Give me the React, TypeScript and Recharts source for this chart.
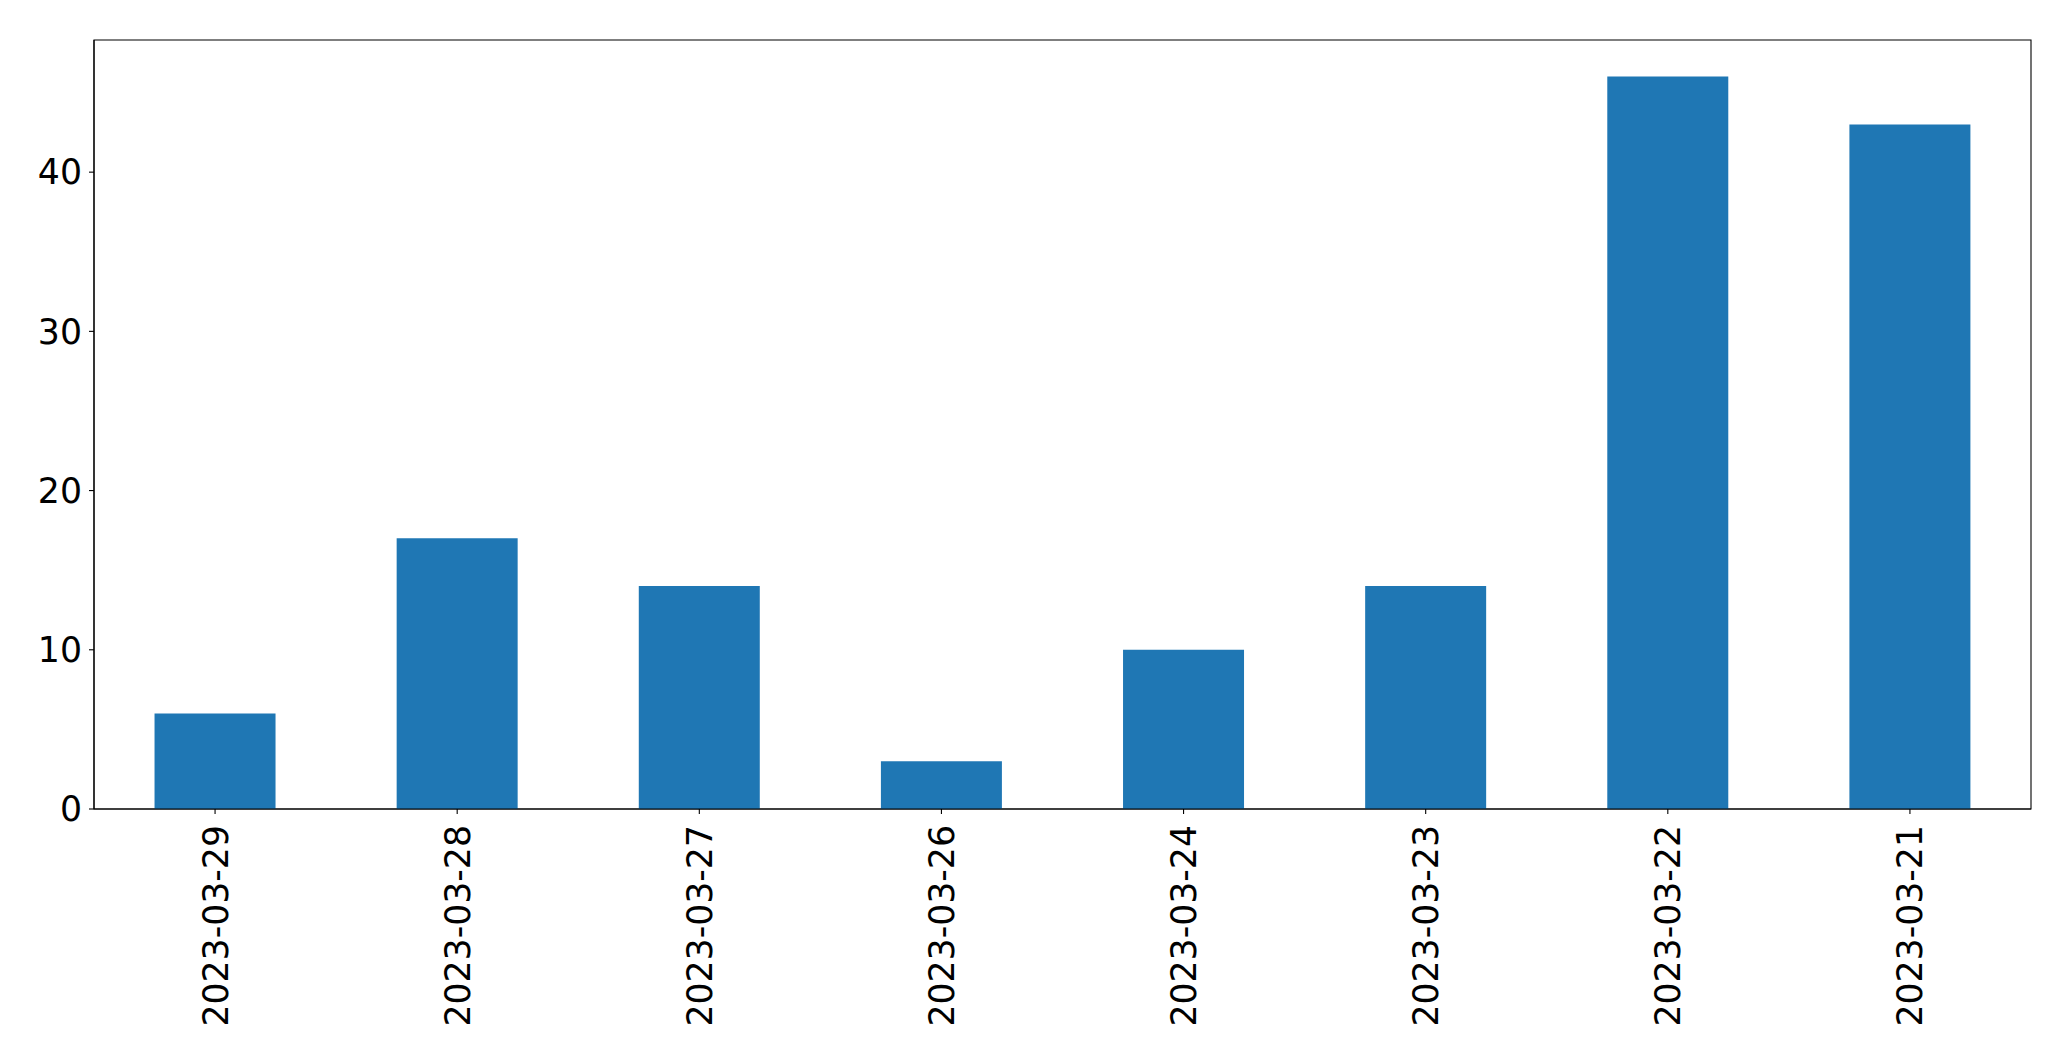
import React from 'react';
import { BarChart, Bar, XAxis, YAxis, ReferenceArea } from 'recharts';

// dates as shown on the x axis (newest first, like the source)
const dates = ['2023-03-29', '2023-03-28', '2023-03-27', '2023-03-26', '2023-03-24', '2023-03-23', '2023-03-22', '2023-03-21'];
const counts = [6, 17, 14, 3, 10, 14, 46, 43];
const yTicks = [0, 10, 20, 30, 40];
const yMax = 48.3;

const data = dates.map((d, i) => ({ date: d, count: counts[i] }));

const FONT = 'DejaVu Sans, sans-serif';

const DateTick = (props: any) => {
  const { x, payload } = props;
  return (
    <text
      x={x}
      y={825}
      transform={`rotate(-90, ${x}, 825)`}
      textAnchor="end"
      dy="0.36em"
      fontSize={34.7}
      fontFamily={FONT}
      fill="#000"
    >
      {payload.value}
    </text>
  );
};

export default function App() {
  return (
    <div style={{ position: 'absolute', left: 0, top: 0, background: '#fff' }}>
      <BarChart
        width={2071}
        height={1061}
        data={data}
        margin={{ top: 40, right: 40, bottom: 0, left: 0 }}
        barCategoryGap="25%"
      >
        <XAxis
          dataKey="date"
          height={252}
          interval={0}
          tick={<DateTick />}
          tickSize={5}
          stroke="#000"
          axisLine={{ stroke: '#000', strokeWidth: 1.1 }}
          tickLine={{ stroke: '#000', strokeWidth: 1.1 }}
        />
        <YAxis
          width={94}
          domain={[0, yMax]}
          ticks={yTicks}
          tickSize={5}
          tickMargin={7}
          stroke="#000"
          tick={{ fontSize: 34.7, fontFamily: FONT, fill: '#000' }}
          axisLine={{ stroke: '#000', strokeWidth: 1.1 }}
          tickLine={{ stroke: '#000', strokeWidth: 1.1 }}
        />
        <Bar dataKey="count" fill="#1f77b4" isAnimationActive={false} />
        {/* frame: top and right spines */}
        <ReferenceArea y1={0} y2={yMax} fill="none" fillOpacity={0} stroke="#000" strokeWidth={1.1} strokeOpacity={1} />
      </BarChart>
    </div>
  );
}
